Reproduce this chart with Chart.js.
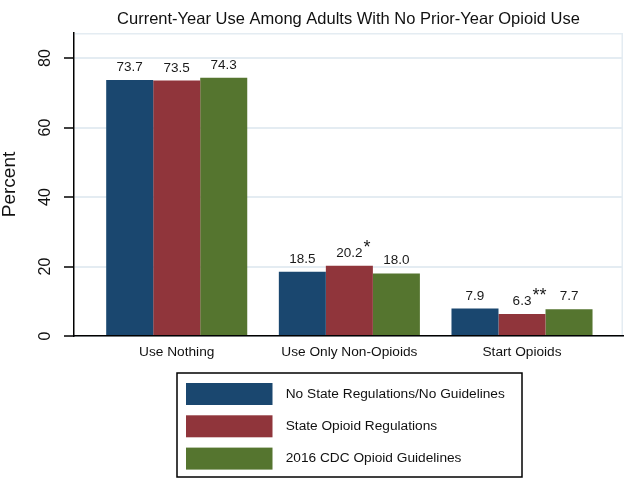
<!DOCTYPE html>
<html><head><meta charset="utf-8">
<script src="https://cdn.jsdelivr.net/npm/chart.js@4/dist/chart.umd.min.js"></script>
<style>html,body{margin:0;padding:0;background:#fff;} canvas{display:block;}</style>
</head><body>
<canvas id="c" width="629" height="480"></canvas>
<script>
const chartTitle = 'Current-Year Use Among Adults With No Prior-Year Opioid Use';
const yAxisTitle = 'Percent';
const categories = ['Use Nothing', 'Use Only Non-Opioids', 'Start Opioids'];
const seriesNames = ['No State Regulations/No Guidelines', 'State Opioid Regulations', '2016 CDC Opioid Guidelines'];
const noRegulations = [73.7, 18.5, 7.9];
const stateRegulations = [73.5, 20.2, 6.3];
const cdcGuidelines = [74.3, 18.0, 7.7];
const significance = [['', '', ''], ['', '*', '**'], ['', '', '']];
const yTicks = [0, 20, 40, 60, 80];
const yMax = 87.2;

const seriesValues = [noRegulations, stateRegulations, cdcGuidelines];
const colors = ['#1a476f', '#90353b', '#55752f'];
const FONT = '"Liberation Sans", Arial, Helvetica, sans-serif';

const decor = {
  id: 'decor',
  beforeDatasetsDraw(chart) {
    const {ctx, chartArea: a} = chart;
    ctx.save();
    ctx.strokeStyle = '#e4ecf2';
    ctx.lineWidth = 1.5;
    ctx.beginPath();
    ctx.moveTo(a.left + 1, a.top + 0.75);
    ctx.lineTo(a.right - 0.75, a.top + 0.75);
    ctx.lineTo(a.right - 0.75, a.bottom - 1);
    ctx.stroke();
    ctx.restore();
  },
  afterDatasetsDraw(chart) {
    const ctx = chart.ctx;
    ctx.save();
    chart.data.datasets.forEach((ds, di) => {
      const meta = chart.getDatasetMeta(di);
      meta.data.forEach((el, i) => {
        const txt = ds.data[i].y.toFixed(1);
        const by = el.y - 9;
        ctx.font = '13.5px ' + FONT;
        ctx.fillStyle = '#1a1a1a';
        ctx.textAlign = 'center';
        ctx.textBaseline = 'alphabetic';
        ctx.fillText(txt, el.x, by);
        const sig = significance[di][i];
        if (sig) {
          const w = ctx.measureText(txt).width;
          ctx.font = '18px ' + FONT;
          ctx.textAlign = 'left';
          ctx.fillText(sig, el.x + w / 2 + 1, by - 4);
        }
      });
    });
    ctx.restore();
  },
  afterDraw(chart) {
    const {ctx, chartArea: a} = chart;
    const ys = chart.scales.y;
    ctx.save();
    ctx.fillStyle = '#111';
    ctx.textAlign = 'center';
    ctx.textBaseline = 'middle';
    ctx.font = '16px ' + FONT;
    yTicks.forEach(v => {
      const y = ys.getPixelForValue(v);
      ctx.save();
      ctx.translate(45.5, y);
      ctx.rotate(-Math.PI / 2);
      ctx.fillText(String(v), 0, 0);
      ctx.restore();
    });
    ctx.font = '19px ' + FONT;
    ctx.save();
    ctx.translate(10, (a.top + a.bottom) / 2);
    ctx.rotate(-Math.PI / 2);
    ctx.fillText(yAxisTitle, 0, 0);
    ctx.restore();

    // legend
    const bx = 177, by = 373, bw = 345, bh = 104;
    ctx.strokeStyle = '#000';
    ctx.lineWidth = 1.5;
    ctx.strokeRect(bx, by, bw, bh);
    ctx.font = '13.7px ' + FONT;
    ctx.textAlign = 'left';
    ctx.textBaseline = 'middle';
    chart.data.datasets.forEach((ds, di) => {
      const cy = 394 + di * 32.3;
      ctx.fillStyle = ds.backgroundColor;
      ctx.fillRect(186, cy - 11, 86.5, 22);
      ctx.fillStyle = '#111';
      ctx.fillText(ds.label, 285.7, cy);
    });
    ctx.restore();
  }
};

new Chart(document.getElementById('c'), {
  type: 'bar',
  data: {
    datasets: seriesNames.map((name, si) => ({
      label: name,
      data: categories.map((c, i) => ({x: i + 1, y: seriesValues[si][i]})),
      backgroundColor: colors[si],
      borderWidth: 0,
      categoryPercentage: 0.817,
      barPercentage: 1
    }))
  },
  options: {
    responsive: false,
    animation: false,
    layout: {padding: {left: 74, right: 6, top: 0, bottom: 0}},
    plugins: {
      legend: {display: false},
      tooltip: {enabled: false},
      title: {
        display: true,
        text: chartTitle,
        color: '#111',
        font: {family: FONT, size: 16.5, weight: 'normal'},
        padding: {top: 10, bottom: 3.2}
      }
    },
    scales: {
      x: {
        type: 'linear',
        min: 0.405,
        max: 3.585,
        offset: false,
        afterBuildTicks: s => { s.ticks = categories.map((c, i) => ({value: i + 1})); },
        afterFit: s => { s.height = 144; },
        ticks: {
          callback: v => categories[Math.round(v) - 1],
          autoSkip: false, maxRotation: 0, minRotation: 0,
          padding: 8,
          color: '#111',
          font: {family: FONT, size: 13.7}
        },
        grid: {display: false, drawTicks: false},
        border: {display: true, color: '#000', width: 1.5}
      },
      y: {
        min: 0,
        max: yMax,
        afterBuildTicks: s => { s.ticks = yTicks.map(v => ({value: v})); },
        afterFit: s => { s.width = 0; },
        ticks: {display: false},
        grid: {color: '#e4ecf2', lineWidth: 2, tickColor: '#000', tickLength: 10, tickWidth: 1.5, drawTicks: true},
        border: {display: true, color: '#000', width: 1.5}
      }
    }
  },
  plugins: [decor]
});
</script>
</body></html>
